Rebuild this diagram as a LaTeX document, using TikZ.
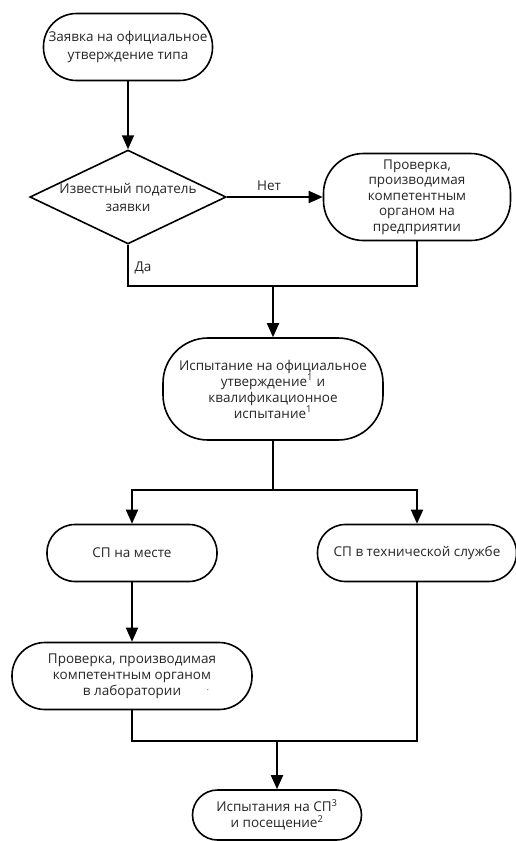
\documentclass[tikz,border=0pt]{standalone}
\usepackage{fontspec}
\setmainfont{Open Sans}
\usetikzlibrary{arrows.meta,shapes.geometric}
\newcommand{\fsz}{\fontsize{13.5pt}{16pt}\selectfont}
\newcommand{\fszw}{\fontsize{13.5pt}{18pt}\selectfont}
\newcommand{\fszn}{\fontsize{13.5pt}{15.5pt}\selectfont}
\tikzset{
  term/.style={draw, line width=1.6pt, align=center, inner sep=0pt, font=\fsz, text=black!85},
  conn/.style={line width=1.8pt},
  arr/.style={conn, -{Triangle[width=12pt,length=14pt]}},
  lbl/.style={font=\fsz, text=black!85},
}
\begin{document}
\begin{tikzpicture}[x=1pt,y=-1pt]
\useasboundingbox (0,0) rectangle (516,841);
\node[term, font=\fszw, rounded corners=33pt, minimum width=169pt, minimum height=67pt] (n1) at (128,47) {Заявка на официальное\\утверждение типа};
\node[term, font=\fszw, diamond, aspect=2.09, minimum width=178pt, minimum height=85pt] (d) at (128,197) {Известный податель\\заявки};
\node[term, font=\fszn, rounded corners=40pt, minimum width=187pt, minimum height=87pt] (b2) at (417,197) {Проверка,\\производимая\\компетентным\\органом на\\предприятии};
\node[term, rounded corners=45pt, minimum width=220pt, minimum height=102pt] (b3) at (273,389) {Испытание на официальное\\утверждение\textsuperscript{1} и\\квалификационное\\испытание\textsuperscript{1}};
\node[term, rounded corners=28pt, minimum width=170pt, minimum height=57pt] (b4) at (132,553) {СП на месте};
\node[term, rounded corners=28pt, minimum width=199pt, minimum height=57pt] (b5) at (417,553) {СП в технической службе};
\node[term, rounded corners=33pt, minimum width=240pt, minimum height=67pt] (b6) at (132,676) {Проверка, производимая\\компетентным органом\\в лаборатории};
\node[lbl, font=\fontsize{8pt}{8pt}\selectfont] (dot) at (208,690) {.};
\node[term, rounded corners=25pt, minimum width=169pt, minimum height=50pt] (b7) at (277,815) {Испытания на СП\textsuperscript{3}\\и посещение\textsuperscript{2}};

\coordinate (j1) at (273,286);
\coordinate (j2) at (273,490);
\coordinate (j3) at (277,741);

\draw[arr] (n1.south) -- (d.north);
\draw[arr] (d.east) -- node[lbl, above=2pt, pos=0.44] (net) {Нет} (b2.west);
\draw[conn] (d.south) |- (j1);
\draw[conn] (b2.south) |- (j1);
\node[lbl, anchor=west] (da) at (131,268) {Да};
\draw[arr] (j1) -- (b3.north);
\draw[conn] (b3.south) -- (j2);
\draw[arr] (j2) -| (b4.north);
\draw[arr] (j2) -| (b5.north);
\draw[arr] (b4.south) -- (b6.north);
\draw[conn] (b6.south) |- (j3);
\draw[conn] (b5.south) |- (j3);
\draw[arr] (j3) -- (b7.north);
\end{tikzpicture}
\end{document}
